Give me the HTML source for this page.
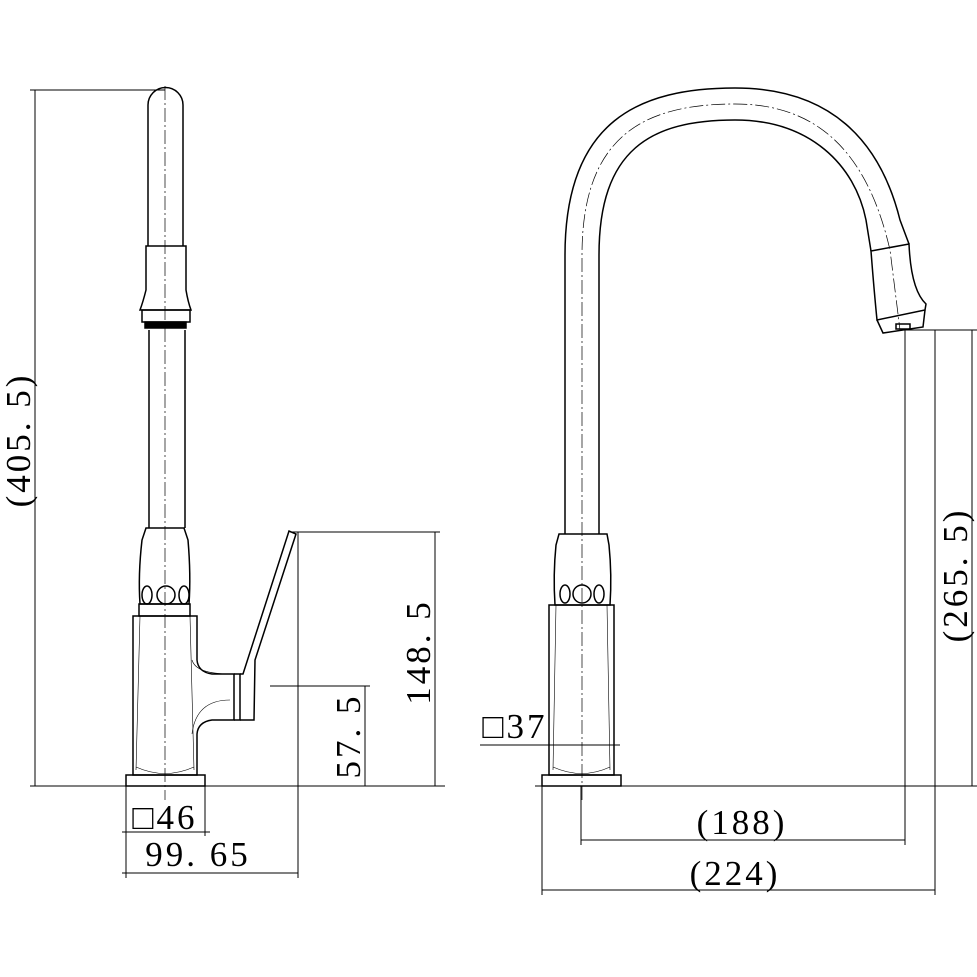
<!DOCTYPE html>
<html><head><style>html,body{margin:0;padding:0;background:#fff}svg{display:block}text{font-family:"Liberation Serif",serif;fill:#000;letter-spacing:3px}</style></head>
<body>
<svg width="977" height="977" viewBox="0 0 977 977" xmlns="http://www.w3.org/2000/svg">
<g stroke="#000" fill="none" stroke-width="1">
<line x1="30" y1="786" x2="445" y2="786"/>
<line x1="535" y1="786" x2="977" y2="786"/>
<line x1="35" y1="90" x2="35" y2="786"/>
<line x1="30" y1="90" x2="165" y2="90"/>
<line x1="290" y1="532" x2="440" y2="532"/>
<line x1="435" y1="532" x2="435" y2="786"/>
<line x1="270" y1="686" x2="370" y2="686"/>
<line x1="365" y1="686" x2="365" y2="786"/>
<line x1="126" y1="786" x2="126" y2="878"/>
<line x1="205" y1="786" x2="205" y2="836"/>
<line x1="298" y1="532" x2="298" y2="878"/>
<line x1="122" y1="832" x2="210" y2="832"/>
<line x1="122" y1="873" x2="298" y2="873"/>
<line x1="480" y1="745" x2="620" y2="745"/>
<line x1="542" y1="786" x2="542" y2="895"/>
<line x1="581" y1="786" x2="581" y2="845"/>
<line x1="905" y1="330" x2="905" y2="845"/>
<line x1="935" y1="330" x2="935" y2="895"/>
<line x1="905" y1="330" x2="977" y2="330"/>
<line x1="972" y1="330" x2="972" y2="786"/>
<line x1="581" y1="840" x2="905" y2="840"/>
<line x1="542" y1="890" x2="935" y2="890"/>
</g>
<g stroke="#000" fill="none" stroke-width="0.7" stroke-dasharray="14 3 2 3">
<line x1="165" y1="86" x2="165" y2="800"/>
<path d="M582,800 L582,255 C582,135 645,104 735,104 C820,104 868,155 890,250 L900,330"/>
</g>
<g stroke="#000" fill="none" stroke-width="1.5">
<path d="M148,246 L148,105 A17.5,17.5 0 0 1 183,105 L183,246"/>
<path d="M146,246 L186,246 L186,290 Q188,302 191,310 L140,310 Q143,302 146,290 Z"/>
<rect x="142" y="310" width="48" height="12"/>
<rect x="145" y="322" width="41" height="6" fill="#000"/>
<line x1="149" y1="330" x2="149" y2="528"/>
<line x1="185" y1="330" x2="185" y2="528"/>
<path d="M146,528 L184,528 L188,540 Q191,575 189,604 L140,604 Q138,575 142,540 Z"/>
<ellipse cx="147" cy="595" rx="5" ry="9"/><ellipse cx="166" cy="595" rx="9" ry="9"/><ellipse cx="184" cy="595" rx="5" ry="9"/>
<rect x="139" y="604" width="51" height="12"/>
<path d="M133,616 L197,616 L197,660 Q198,672 212,674 L234,674 L234,720 L212,720 Q198,722 197,734 L197,775 L133,775 Z"/>
<rect x="126" y="775" width="79" height="11"/>
<path d="M234,674 L240,674 L240,720 L234,720"/>
<path d="M240,674 L243,674 L289,531 L296,534 L255,660 L254,720 L240,720"/>
</g>
<g stroke="#000" fill="none" stroke-width="0.6">
<path d="M140,616 L136,770 M190,616 L194,770 M136,767 Q165,780 194,767"/>
<path d="M192,660 Q196,674 230,674 M192,734 Q196,700 230,700"/>
</g>
<g stroke="#000" fill="none" stroke-width="1.5">
<path d="M565,534 L565,255 C565,120 640,88 735,88 C830,88 880,140 900,220 L909,244"/>
<path d="M599,534 L599,255 C599,150 650,120 735,120 C810,120 855,165 866,220 L871,251"/>
<path d="M871,251 L909,244 Q911,290 926,304 L925,310 L877,320 Q874,290 871,251 Z"/>
<path d="M877,320 L883,333 L923,327 L925,310"/>
<rect x="896" y="324" width="14" height="5"/>
<path d="M559,534 L607,534 L609,545 Q612,575 610,605 L555,605 Q553,575 556,545 Z"/>
<ellipse cx="565" cy="594" rx="5" ry="9"/><ellipse cx="582" cy="594" rx="9" ry="9"/><ellipse cx="599" cy="594" rx="5" ry="9"/>
<path d="M549,605 L614,605 L614,775 L549,775 Z"/>
<rect x="542" y="775" width="79" height="11"/>
</g>
<g stroke="#000" fill="none" stroke-width="0.6">
<path d="M556,605 L553,770 M607,605 L610,770 M553,767 Q582,780 610,767"/>
</g>
<text font-size="35" transform="translate(30,440) rotate(-90)" text-anchor="middle">(405. 5)</text>
<text font-size="35" transform="translate(430,652) rotate(-90)" text-anchor="middle">148. 5</text>
<text font-size="35" transform="translate(360,736) rotate(-90)" text-anchor="middle">57. 5</text>
<text font-size="35" transform="translate(967,575) rotate(-90)" text-anchor="middle">(265. 5)</text>
<text x="165" y="829" font-size="35" text-anchor="middle">□46</text>
<text x="198" y="866" font-size="35" text-anchor="middle">99. 65</text>
<text x="515" y="738" font-size="35" text-anchor="middle">□37</text>
<text x="742" y="834" font-size="35" text-anchor="middle">(188)</text>
<text x="735" y="885" font-size="35" text-anchor="middle">(224)</text>
</svg>
</body></html>
